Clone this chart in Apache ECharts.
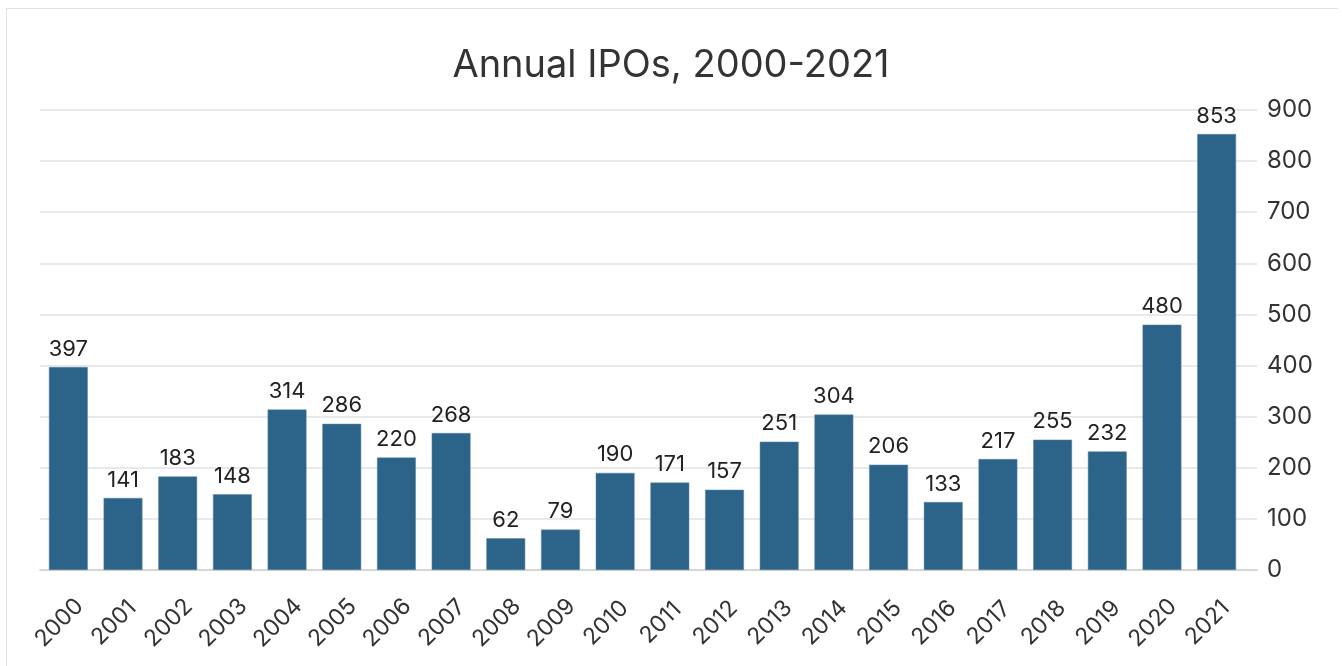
<!DOCTYPE html>
<html>
<head>
<meta charset="utf-8">
<script src="https://cdn.jsdelivr.net/npm/echarts@6/dist/echarts.min.js"></script>
<style>
  html, body { margin: 0; padding: 0; background: #fff; }
  #frame {
    position: absolute; left: 6px; top: 8px; width: 1331px; height: 700px;
    border-top: 1px solid #e3e3e3; border-left: 1px solid #e3e3e3;
  }
  #main { position: absolute; left: 0; top: 0; width: 1342px; height: 666px; }
</style>
</head>
<body>
<div id="frame"></div>
<div id="main"></div>
<script>
// data
const years = ['2000', '2001', '2002', '2003', '2004', '2005', '2006', '2007', '2008', '2009', '2010',
  '2011', '2012', '2013', '2014', '2015', '2016', '2017', '2018', '2019', '2020', '2021'];
const ipos = [397, 141, 183, 148, 314, 286, 220, 268, 62, 79, 190,
  171, 157, 251, 304, 206, 133, 217, 255, 232, 480, 853];
const yTicks = { min: 0, max: 900, interval: 100 };

const font = 'Inter, sans-serif';
let chart = echarts.init(document.getElementById('main'));
chart.setOption({
  animation: false,
  title: {
    text: 'Annual IPOs, 2000-2021',
    left: 'center',
    top: 42,
    textStyle: { fontFamily: font, fontSize: 38, fontWeight: 'normal', color: '#333' }
  },
  // grid 0 carries the gridlines / value labels, grid 1 the bars
  grid: [
    { left: 40, right: 85, top: 110, bottom: 96 },
    { left: 41, right: 98, top: 110, bottom: 96 }
  ],
  xAxis: [{
    gridIndex: 0,
    type: 'value', min: 0, max: 1,
    axisLine: { show: true, onZero: false, lineStyle: { color: '#d0d0d0', width: 1.5 } },
    axisTick: { show: false }, axisLabel: { show: false }, splitLine: { show: false }
  }, {
    gridIndex: 1,
    type: 'category',
    data: years,
    axisTick: { show: false },
    axisLine: { show: false },
    axisLabel: {
      rotate: 45, fontFamily: font, fontSize: 23, color: '#333', interval: 0,
      align: 'center', verticalAlign: 'bottom', lineHeight: 26, margin: 62
    }
  }],
  yAxis: [{
    gridIndex: 0,
    type: 'value',
    position: 'right',
    min: yTicks.min, max: yTicks.max, interval: yTicks.interval,
    axisLine: { show: false },
    axisTick: { show: false },
    splitLine: { lineStyle: { color: '#e2e2e2', width: 1.5 } },
    axisLabel: { fontFamily: font, fontSize: 24, color: '#333', margin: 10 }
  }, {
    gridIndex: 1,
    type: 'value',
    min: yTicks.min, max: yTicks.max, interval: yTicks.interval,
    show: false
  }],
  series: [{
    type: 'bar',
    xAxisIndex: 1, yAxisIndex: 1,
    data: ipos,
    barCategoryGap: '29%',
    itemStyle: { color: '#2c6388', borderColor: '#5a86a6', borderWidth: 0.5 },
    label: {
      show: true, position: 'top', distance: 7,
      fontFamily: font, fontSize: 22, color: '#222'
    }
  }]
});
</script>
</body>
</html>
